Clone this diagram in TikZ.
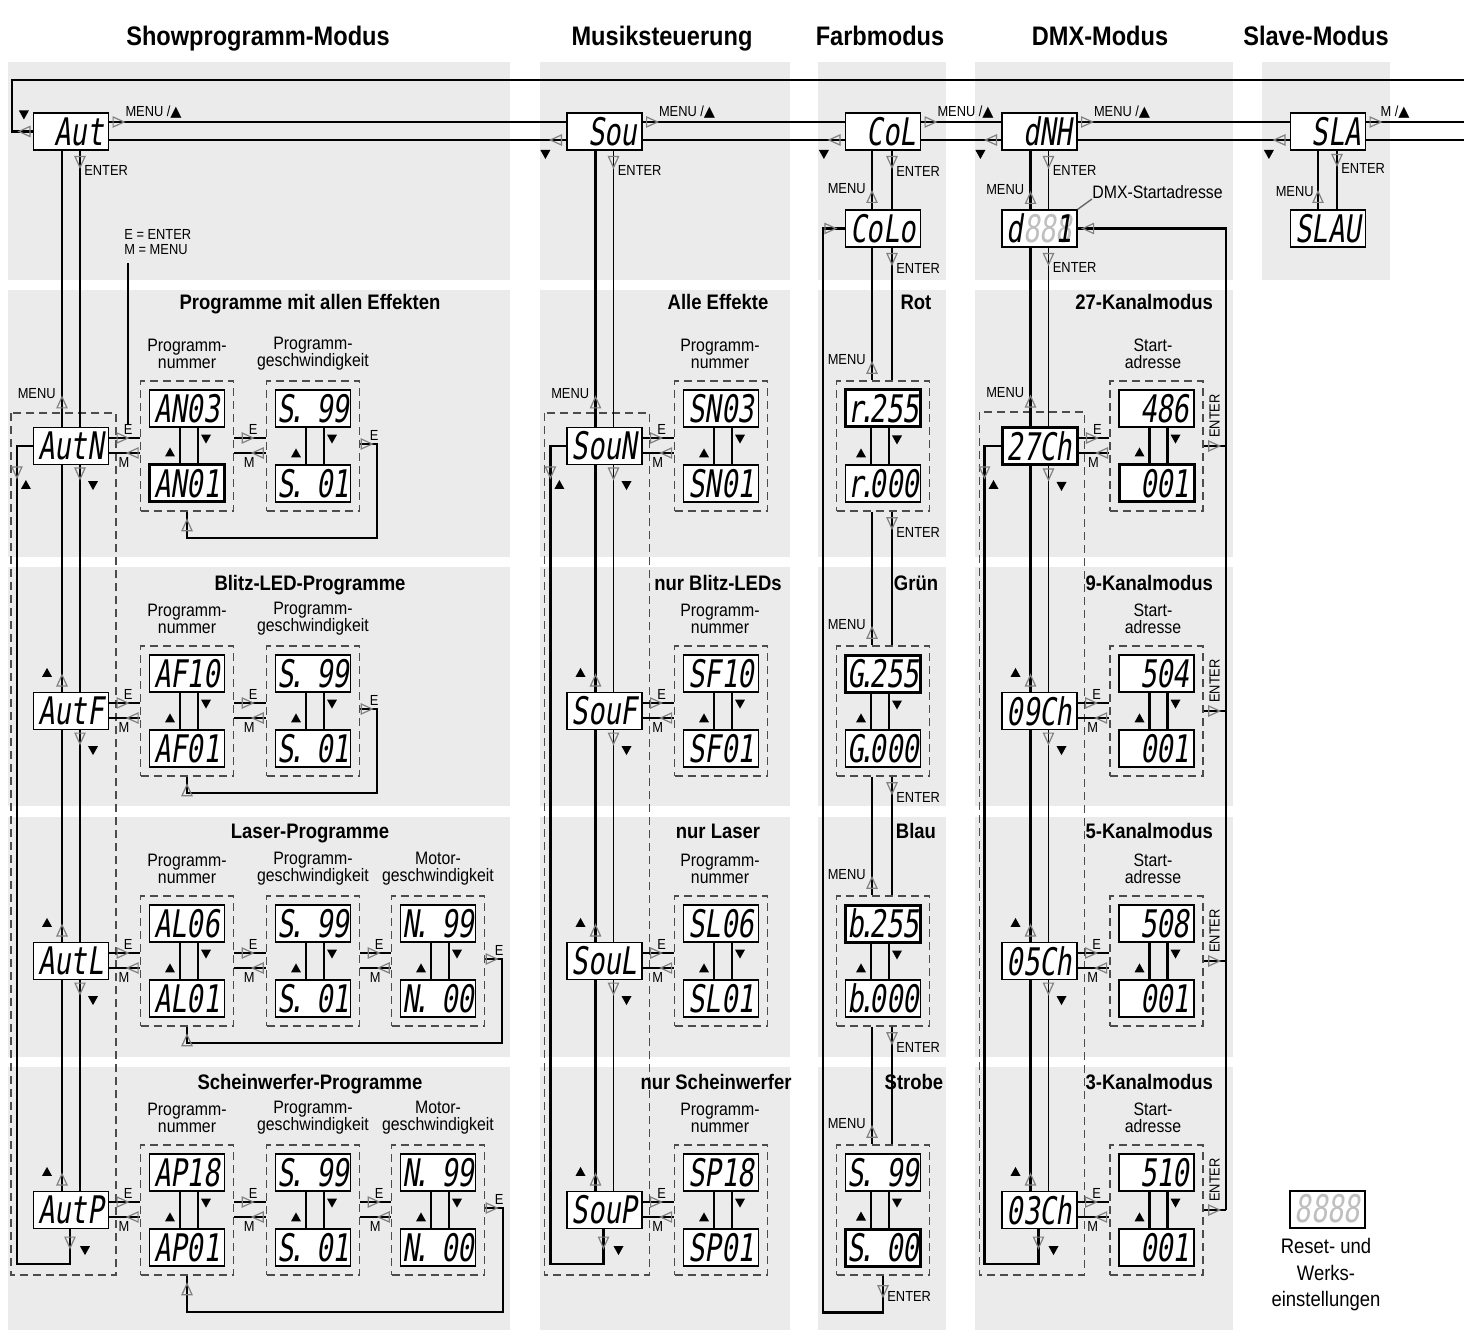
\documentclass[tikz,border=0pt]{standalone}
\usepackage{fontspec}
\setmainfont{Liberation Sans}[FakeStretch=0.88]
\newfontfamily\lcdfam{DejaVu Sans Mono}[FakeSlant=0.15,FakeStretch=0.72]
\newfontfamily\symfam{DejaVu Sans}
\usetikzlibrary{calc}

\newcommand\lcd{\lcdfam\fontsize{19}{19}\selectfont}
\newcommand\lcddot{\makebox[0.16em]{.}}
\newcommand\lcdgap{\phantom{8}}
\newcommand\uptri{{\symfam ▲}}

% display pair in a dashed group: name, x, y, upper, lower, upper style, lower style, line offset
\newcommand\dgrp[8]{%
  \node[grpbox] (g#1) at (#2,#3) {};
  \node[#6] (#1t) at (#2,#3-37.5) {#4};
  \node[#7] (#1b) at (#2,#3+37.5) {#5};
  \draw[thk] ($(#1t.south)+(#8,0)$) -- ($(#1b.north)+(#8,0)$);
  \draw[thk] ($(#1t.south)+(#8+18,0)$) -- ($(#1b.north)+(#8+18,0)$);
  \pic at ($(#1b.north)+(#8-10,-11)$) {btri};
  \pic[rotate=180] at ($(#1t.south)+(#8+26,11)$) {btri};
}
% E/M connector pair: from, to, row y
\newcommand\emlink[3]{%
  \draw[lnk] (#1.east |- 0,#3-8) -- (#2.west |- 0,#3-8);
  \draw[lnk] (#1.east |- 0,#3+7) -- (#2.west |- 0,#3+7);
  \pic at ($(#1.east |- 0,#3-8)+(13,0)$) {oarr};
  \pic[rotate=180] at ($(#1.east |- 0,#3+7)+(24,0)$) {oarr};
  \node[key] (#1-E) at ($(#1.east |- 0,#3-17)+(19,0)$) {E};
  \node[key] (#1-M) at ($(#1.east |- 0,#3+16)+(15,0)$) {M};
}
% E back to the first group: last, first, row y, right x, bottom y
\newcommand\eloop[5]{%
  \draw[lnk] (#1.east |- 0,#3-2) -- (#4,#3-2) |- (#2.south |- 0,#5) -- (#2.south);
  \pic at ($(#1.east |- 0,#3-2)+(6,0)$) {oarr};
  \pic[rotate=90] at ($(#2.south)+(0,14)$) {oarr};
  \node[key] (#1-X) at ($(#1.east |- 0,#3-11)+(14,0)$) {E};
}

\begin{document}
\begin{tikzpicture}[
    x=0.5pt, y=-0.5pt,
    panel/.style={fill=black!8},
    disp/.style={draw, fill=white, line width=0.6pt, minimum width=37.5pt,
                 minimum height=18.5pt, inner sep=0pt, font=\lcd},
    dispsel/.style={disp, line width=1.5pt},
    grp/.style={draw=black!70, line width=0.7pt, dash pattern=on 4pt off 2.5pt},
    grpbox/.style={grp, minimum width=46.5pt, minimum height=65pt, inner sep=0pt},
    thk/.style={line width=1.3pt},
    thn/.style={line width=0.7pt},
    lnk/.style={line width=1pt},
    hdr/.style={font=\fontsize{13.4}{15}\selectfont\bfseries, anchor=base},
    ttl/.style={font=\fontsize{10.5}{12}\selectfont\bfseries, anchor=base},
    lbl/.style={font=\fontsize{9}{8.6}\selectfont, align=center, inner sep=0pt},
    key/.style={font=\fontsize{7.3}{7.6}\selectfont, inner sep=0pt},
    oarr/.pic={\draw[black!50, line width=0.6pt] (-5,-5) -- (6,0) -- (-5,5) -- cycle;},
    btri/.pic={\fill (-5,4) -- (5,4) -- (0,-5) -- cycle;}
]
\useasboundingbox (0,0) rectangle (1464,1332);

% ---------- panels ----------
\foreach \xa/\xb in {8/510, 540/790, 818/946, 975/1233, 1262/1390}
  \fill[panel] (\xa,62) rectangle (\xb,280);
\foreach \ya/\yb in {290/557, 567/806, 817/1057, 1067/1330}
  \foreach \xa/\xb in {8/510, 540/790, 818/946, 975/1233}
    \fill[panel] (\xa,\ya) rectangle (\xb,\yb);

% ---------- headers ----------
\node[hdr] (hShow) at (258,46) {Showprogramm-Modus};
\node[hdr] (hSound) at (662,46) {Musiksteuerung};
\node[hdr] (hColour) at (880,46) {Farbmodus};
\node[hdr] (hDmx) at (1100,46) {DMX-Modus};
\node[hdr] (hSlave) at (1316,46) {Slave-Modus};

% ---------- main menu ----------
\node[disp] (Aut) at (71,131.5) {\lcdgap Aut};
\node[disp] (Sou) at (604.5,131.5) {\lcdgap Sou};
\node[disp] (CoL) at (883,131.5) {\lcdgap CoL};
\node[disp] (dNH) at (1039.5,131.5) {\lcdgap dNH};
\node[disp] (SLA) at (1328,131.5) {\lcdgap SLA};
\node[disp] (CoLo) at (883,228.5) {CoLo};
\node[disp] (dAdr) at (1039.5,228.5)
  {d\textcolor{black!25}{88}\rlap{\textcolor{black!25}{8}}1};
\node[disp] (SLAU) at (1328,228.5) {SLAU};

\draw[thk] (Aut.west) -- (12,131.5) -- (12,80) -- (1464,80);
\pic[rotate=180] at ($(Aut.west)+(-8,0)$) {oarr};
\pic[rotate=180] at ($(Aut.west)+(-9,-17)$) {btri};
\foreach \a/\b in {Aut/Sou, Sou/CoL, CoL/dNH, dNH/SLA} {
  \draw[thk] (\a.east |- 0,122) -- (\b.west |- 0,122);
  \draw[thk] (\a.east |- 0,140) -- (\b.west |- 0,140);
  \pic at ($(\a.east |- 0,122)+(9,0)$) {oarr};
  \node[key, anchor=west] (\a-next) at ($(\a.east |- 0,112)+(16,0)$) {MENU /\uptri};
  \pic[rotate=180] at ($(\b.west |- 0,140)+(-10,0)$) {oarr};
  \pic[rotate=180] at ($(\b.west |- 0,140)+(-21,14)$) {btri};
}
\draw[thk] (SLA.east |- 0,122) -- (1464,122);
\draw[thk] (SLA.east |- 0,140) -- (1464,140);
\pic at ($(SLA.east |- 0,122)+(9,0)$) {oarr};
\node[key, anchor=west] (SLA-next) at ($(SLA.east |- 0,112)+(14,0)$) {M /\uptri};

% ---------- mode boxes ----------
\foreach \r/\C in {N/446, F/711, L/961, P/1210} {
  \node[disp] (Aut\r) at (71,\C) {Aut\r};
  \node[disp] (Sou\r) at (604.5,\C) {Sou\r};
}
\foreach \r/\C/\s in {27/446/dispsel, 09/711/disp, 05/961/disp, 03/1210/disp}
  \node[\s] (Ch\r) at (1039.5,\C) {\r Ch};
\foreach \f/\l in {AutN/AutP, SouN/SouP, Ch27/Ch03}
  \draw[grp] ($(\f.north)+(-60,-14)$) rectangle ($(\l.south)+(45,46)$);

\foreach \a/\b/\dy in {Aut/AutN/24, Sou/SouN/24, dNH/dAdr/11, dAdr/Ch27/24} {
  \draw[thk] ($(\a.south)+(-9,0)$) -- ($(\b.north)+(-9,0)$);
  \draw[thn] ($(\a.south)+(9,0)$) -- ($(\b.north)+(9,0)$);
  \pic[rotate=90] at ($(\b.north)+(-9,-\dy)$) {oarr};
  \node[key, anchor=east] (\b-menu) at ($(\b.north)+(-15,-\dy-9)$) {MENU};
  \pic[rotate=270] at ($(\a.south)+(9,11)$) {oarr};
  \node[key, anchor=west] (\a-enter) at ($(\a.south)+(13,20)$) {ENTER};
}
\foreach \a/\b in {AutN/AutF, AutF/AutL, AutL/AutP, SouN/SouF, SouF/SouL,
                   SouL/SouP, Ch27/Ch09, Ch09/Ch05, Ch05/Ch03} {
  \draw[thk] ($(\a.south)+(-9,0)$) -- ($(\b.north)+(-9,0)$);
  \draw[thn] ($(\a.south)+(9,0)$) -- ($(\b.north)+(9,0)$);
  \pic[rotate=90] at ($(\b.north)+(-9,-11)$) {oarr};
  \pic at ($(\b.north)+(-24,-19)$) {btri};
  \pic[rotate=270] at ($(\a.south)+(9,8)$) {oarr};
  \pic[rotate=180] at ($(\a.south)+(22,20)$) {btri};
}
\foreach \f/\l in {AutN/AutP, SouN/SouP, Ch27/Ch03} {
  \draw[thk] (\f.west) -- ++(-16,0) |- ($(\l.south)+(-1,35)$) -- ($(\l.south)+(-1,0)$);
  \pic[rotate=270] at ($(\f.west)+(-16,26)$) {oarr};
  \pic at ($(\f.west)+(-7,39)$) {btri};
  \pic[rotate=270] at ($(\l.south)+(-1,13)$) {oarr};
  \pic[rotate=180] at ($(\l.south)+(14,21)$) {btri};
}

% ---------- Showprogramm-Modus ----------
\node[ttl] (tAN) at (310,310) {Programme mit allen Effekten};
\node[ttl] (tAF) at (310,590) {Blitz-LED-Programme};
\node[ttl] (tAL) at (310,838) {Laser-Programme};
\node[ttl] (tAP) at (310,1089) {Scheinwerfer-Programme};
\foreach \C in {446, 711, 961, 1210} {
  \node[lbl] (lNum\C) at (187,\C-92) {Programm-\\nummer};
  \node[lbl] (lSpd\C) at (313,\C-92) {Programm-\\geschwindigkeit};
}
\foreach \C in {961, 1210}
  \node[lbl] (lMot\C) at (438,\C-92) {Motor-\\geschwindigkeit};

\dgrp{AN1}{187}{446}{AN03}{AN01}{disp}{dispsel}{-7}
\dgrp{AN2}{313}{446}{S\lcddot\lcdgap99}{S\lcddot\lcdgap01}{disp}{disp}{-7}
\dgrp{AF1}{187}{711}{AF10}{AF01}{disp}{disp}{-7}
\dgrp{AF2}{313}{711}{S\lcddot\lcdgap99}{S\lcddot\lcdgap01}{disp}{disp}{-7}
\dgrp{AL1}{187}{961}{AL06}{AL01}{disp}{disp}{-7}
\dgrp{AL2}{313}{961}{S\lcddot\lcdgap99}{S\lcddot\lcdgap01}{disp}{disp}{-7}
\dgrp{AL3}{438}{961}{N\lcddot\lcdgap99}{N\lcddot\lcdgap00}{disp}{disp}{-7}
\dgrp{AP1}{187}{1210}{AP18}{AP01}{disp}{disp}{-7}
\dgrp{AP2}{313}{1210}{S\lcddot\lcdgap99}{S\lcddot\lcdgap01}{disp}{disp}{-7}
\dgrp{AP3}{438}{1210}{N\lcddot\lcdgap99}{N\lcddot\lcdgap00}{disp}{disp}{-7}

\emlink{AutN}{gAN1}{446} \emlink{gAN1}{gAN2}{446}
\eloop{gAN2}{gAN1}{446}{377}{538}
\emlink{AutF}{gAF1}{711} \emlink{gAF1}{gAF2}{711}
\eloop{gAF2}{gAF1}{711}{377}{793}
\emlink{AutL}{gAL1}{961} \emlink{gAL1}{gAL2}{961} \emlink{gAL2}{gAL3}{961}
\eloop{gAL3}{gAL1}{961}{502}{1043}
\emlink{AutP}{gAP1}{1210} \emlink{gAP1}{gAP2}{1210} \emlink{gAP2}{gAP3}{1210}
\eloop{gAP3}{gAP1}{1210}{503}{1312}

\node[key, align=left, anchor=north west] (legend) at (124,229) {E = ENTER\\M = MENU};
\draw[thn] (legend.south -| AutN-E.north) ++(0,8) -- (AutN-E.north);

% ---------- Musiksteuerung ----------
\node[ttl] (tSN) at (718,310) {Alle Effekte};
\node[ttl] (tSF) at (718,590) {nur Blitz-LEDs};
\node[ttl] (tSL) at (718,838) {nur Laser};
\node[ttl] (tSP) at (716,1089) {nur Scheinwerfer};
\foreach \r/\C/\n in {N/446/03, F/711/10, L/961/06, P/1210/18} {
  \node[lbl] (lS\r) at (720,\C-92) {Programm-\\nummer};
  \dgrp{S\r}{721}{\C}{S\r\n}{S\r01}{disp}{disp}{-7}
  \emlink{Sou\r}{gS\r}{\C}
}

% ---------- Farbmodus ----------
\node[ttl] (tRot) at (916,310) {Rot};
\node[ttl] (tGrn) at (916,590) {Grün};
\node[ttl] (tBlau) at (916,838) {Blau};
\node[ttl] (tStr) at (914,1089) {Strobe};
\dgrp{Rot}{883}{446}{r\lcddot255}{r\lcddot000}{dispsel}{disp}{-12}
\dgrp{Grn}{883}{711}{G\lcddot255}{G\lcddot000}{dispsel}{disp}{-12}
\dgrp{Blau}{883}{961}{b\lcddot255}{b\lcddot000}{dispsel}{disp}{-12}
\dgrp{Str}{883}{1210}{S\lcddot\lcdgap99}{S\lcddot\lcdgap00}{disp}{dispsel}{-12}
\foreach \a/\b in {CoL/CoLo, CoLo/gRot, gRot/gGrn, gGrn/gBlau, gBlau/gStr} {
  \draw[thk] ($(\a.south)+(-11,0)$) -- ($(\b.north)+(-11,0)$);
  \draw[thn] ($(\a.south)+(9,0)$) -- ($(\b.north)+(9,0)$);
  \pic[rotate=90] at ($(\b.north)+(-11,-12)$) {oarr};
  \node[key, anchor=east] (\b-menu) at ($(\b.north)+(-17,-21)$) {MENU};
  \pic[rotate=270] at ($(\a.south)+(9,11)$) {oarr};
  \node[key, anchor=west] (\a-enter) at ($(\a.south)+(13,21)$) {ENTER};
}
\draw[thk] (gStr.south) -- ++(0,37) -| (823,228.5) -- (CoLo.west);
\pic[rotate=270] at ($(gStr.south)+(0,15)$) {oarr};
\node[key, anchor=west] (gStr-enter) at ($(gStr.south)+(4,21)$) {ENTER};
\pic at ($(CoLo.west)+(-15,0)$) {oarr};

% ---------- DMX-Modus ----------
\node[ttl, anchor=base east] (t27) at (1220,310) {27-Kanalmodus};
\node[ttl, anchor=base east] (t09) at (1220,590) {9-Kanalmodus};
\node[ttl, anchor=base east] (t05) at (1220,838) {5-Kanalmodus};
\node[ttl, anchor=base east] (t03) at (1220,1089) {3-Kanalmodus};
\node[lbl, anchor=west] (dAdr-lbl) at (1092,192) {DMX-Startadresse};
\draw[thn, black!60] (dAdr.north east) -- (dAdr-lbl.south west);
\coordinate (rail) at (1226,228.5);
\foreach \r/\C/\v/\s in {27/446/486/dispsel, 09/711/504/disp, 05/961/508/disp, 03/1210/510/disp} {
  \node[lbl] (lA\r) at (1153,\C-92) {Start-\\adresse};
  \dgrp{A\r}{1156.5}{\C}{\lcdgap\v}{\lcdgap001}{disp}{\s}{-7}
  \emlink{Ch\r}{gA\r}{\C}
  \draw[thk] (gA\r.east) -- (gA\r.east -| rail);
  \pic at ($(gA\r.east)+(10,0)$) {oarr};
  \node[key, rotate=90] (gA\r-enter) at ($(gA\r.east)+(11,-30)$) {ENTER};
}
\draw[thk] (dAdr.east) -- (rail) -- (rail |- gA03.east);
\pic[rotate=180] at ($(dAdr.east)+(11,0)$) {oarr};

% ---------- Slave-Modus ----------
\draw[thn] ($(SLA.south)+(-10,0)$) -- ($(SLAU.north)+(-10,0)$);
\pic[rotate=90] at ($(SLAU.north)+(-10,-12)$) {oarr};
\node[key, anchor=east] (SLAU-menu) at ($(SLAU.north)+(-14,-18)$) {MENU};
\draw[thk] ($(SLA.south)+(9,0)$) -- ($(SLAU.north)+(9,0)$);
\pic[rotate=270] at ($(SLA.south)+(9,9)$) {oarr};
\node[key, anchor=west] (SLA-enter) at ($(SLA.south)+(13,18)$) {ENTER};

% ---------- reset ----------
\node[disp, line width=1pt] (reset) at (1327.5,1209) {\textcolor{black!25}{8888}};
\node[lbl, font=\fontsize{10.5}{13.25}\selectfont] (reset-lbl) at (1326,1275)
  {Reset- und\\Werks-\\einstellungen};

\end{tikzpicture}
\end{document}
